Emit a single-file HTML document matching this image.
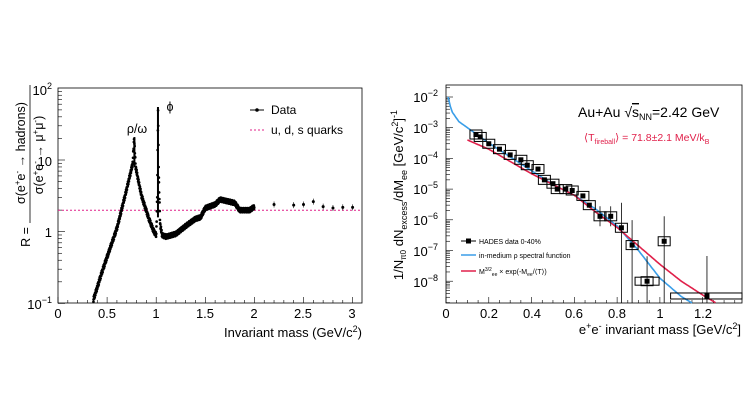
<!DOCTYPE html>
<html><head><meta charset="utf-8"><style>
html,body{margin:0;padding:0;background:#fff;}
svg{display:block;font-family:"Liberation Sans",sans-serif;}
</style></head><body>
<svg id="s" width="747" height="420" viewBox="0 0 747 420" xmlns="http://www.w3.org/2000/svg">
<rect width="747" height="420" fill="#fff"/>
<g id="L"></g>
<g id="R"></g>
<!-- left texts -->
<text x="52" y="95" font-size="13" text-anchor="end">10<tspan dy="-6" font-size="9">2</tspan></text>
<text x="52" y="166" font-size="13" text-anchor="end">10</text>
<text x="52" y="237" font-size="13" text-anchor="end">1</text>
<text x="52" y="309" font-size="13" text-anchor="end">10<tspan dy="-6" font-size="9">−1</tspan></text>
<g font-size="13" text-anchor="middle">
<text x="58" y="318">0</text><text x="107" y="318">0.5</text><text x="156" y="318">1</text><text x="205" y="318">1.5</text><text x="254" y="318">2</text><text x="303" y="318">2.5</text><text x="352" y="318">3</text>
</g>
<text x="362" y="337" font-size="13" text-anchor="end">Invariant mass (GeV/c<tspan dy="-5" font-size="9">2</tspan><tspan dy="5">)</tspan></text>
<g transform="translate(30,195) rotate(-90)" font-size="12.5">
<text x="-32" y="0" text-anchor="end">R =</text>
<text x="42" y="-5" text-anchor="middle">σ(e<tspan dy="-5" font-size="8">+</tspan><tspan dy="5">e</tspan><tspan dy="-5" font-size="8">-</tspan><tspan dy="5"> → hadrons)</tspan></text>
<line x1="-28" y1="0" x2="110" y2="0" stroke="#000" stroke-width="0.8"/>
<text x="40" y="13" text-anchor="middle">σ(e<tspan dy="-5" font-size="8">+</tspan><tspan dy="5">e</tspan><tspan dy="-5" font-size="8">-</tspan><tspan dy="5"> → μ</tspan><tspan dy="-5" font-size="8">+</tspan><tspan dy="5">μ</tspan><tspan dy="-5" font-size="8">-</tspan><tspan dy="5">)</tspan></text>
</g>
<text x="137" y="133" font-size="12.5" text-anchor="middle">ρ/ω</text>
<text x="170" y="111" font-size="12.5" text-anchor="middle">ϕ</text>
<line x1="250" y1="110" x2="264" y2="110" stroke="#000" stroke-width="1"/><circle cx="257" cy="110" r="1.8"/>
<text x="271" y="114" font-size="12">Data</text>
<line x1="250" y1="130" x2="264" y2="130" stroke="#e0208a" stroke-width="1" stroke-dasharray="2,2"/>
<text x="271" y="134" font-size="12">u, d, s quarks</text>
<!-- right texts -->
<g font-size="13" text-anchor="end">
<text x="438" y="102">10<tspan dy="-6" font-size="9">−2</tspan></text>
<text x="438" y="133">10<tspan dy="-6" font-size="9">−3</tspan></text>
<text x="438" y="164">10<tspan dy="-6" font-size="9">−4</tspan></text>
<text x="438" y="194">10<tspan dy="-6" font-size="9">−5</tspan></text>
<text x="438" y="225">10<tspan dy="-6" font-size="9">−6</tspan></text>
<text x="438" y="256">10<tspan dy="-6" font-size="9">−7</tspan></text>
<text x="438" y="287">10<tspan dy="-6" font-size="9">−8</tspan></text>
</g>
<g font-size="13" text-anchor="middle">
<text x="446" y="318">0</text><text x="489" y="318">0.2</text><text x="532" y="318">0.4</text><text x="574" y="318">0.6</text><text x="617" y="318">0.8</text><text x="660" y="318">1</text><text x="703" y="318">1.2</text>
</g>
<text x="741" y="334" font-size="13" text-anchor="end">e<tspan dy="-5" font-size="9">+</tspan><tspan dy="5">e</tspan><tspan dy="-5" font-size="9">-</tspan><tspan dy="5"> invariant mass [GeV/c</tspan><tspan dy="-5" font-size="9">2</tspan><tspan dy="5">]</tspan></text>
<g transform="translate(403,195) rotate(-90)" font-size="13" text-anchor="middle">
<text x="0" y="0">1/N<tspan dy="3" font-size="8">π0</tspan><tspan dy="-3"> dN</tspan><tspan dy="4" font-size="9">excess</tspan><tspan dy="-4">/dM</tspan><tspan dy="4" font-size="9">ee</tspan><tspan dy="-4"> [GeV/c</tspan><tspan dy="-5" font-size="9">2</tspan><tspan dy="5">]</tspan><tspan dy="-6" font-size="9">-1</tspan></text>
</g>
<text x="578" y="117" font-size="14">Au+Au √<tspan text-decoration="overline">s</tspan><tspan dy="3" font-size="9">NN</tspan><tspan dy="-3">=2.42 GeV</tspan></text>
<text x="584" y="141" font-size="10.5" fill="#e0204a">⟨T<tspan dy="3" font-size="7">fireball</tspan><tspan dy="-3">⟩ = 71.8±2.1 MeV/k</tspan><tspan dy="3" font-size="7">B</tspan></text>
<line x1="461" y1="241" x2="476" y2="241" stroke="#000"/><rect x="466" y="238.5" width="5" height="5"/>
<text x="479" y="244" font-size="7">HADES data 0-40%</text>
<line x1="461" y1="255" x2="476" y2="255" stroke="#3a9ee8" stroke-width="1.5"/>
<text x="479" y="258" font-size="7">in-medium ρ spectral function</text>
<line x1="461" y1="271" x2="476" y2="271" stroke="#e0204a" stroke-width="1.5"/>
<text x="479" y="274" font-size="7">M<tspan dy="-3" font-size="5">3/2</tspan><tspan dy="5" font-size="5">ee</tspan><tspan dy="-2"> × exp(-M</tspan><tspan dy="2" font-size="5">ee</tspan><tspan dy="-2">/⟨T⟩)</tspan></text>
</svg>
<script>
var NS="http://www.w3.org/2000/svg";
function el(p,t,a){var e=document.createElementNS(NS,t);for(var k in a)e.setAttribute(k,a[k]);p.appendChild(e);return e;}
function interpP(P,m){for(var i=0;i<P.length-1;i++){if(m>=P[i][0]&&m<=P[i+1][0]){var t=(m-P[i][0])/(P[i+1][0]-P[i][0]);return P[i][1]+t*(P[i+1][1]-P[i][1]);}}return null;}
// LEFT
var L=document.getElementById("L");
var lx=function(m){return 58+m*98.2;}, ly=function(l){return 231.7-l*71.7;};
el(L,"rect",{x:58,y:88,width:304,height:215,fill:"none",stroke:"#000","stroke-width":0.8});
for(var i=0;i<=30;i++){var x=lx(i*0.1);el(L,"line",{x1:x,y1:303,x2:x,y2:303-(i%5==0?6:3),stroke:"#000","stroke-width":0.6});}
for(var d=-1;d<2;d++)for(var k=1;k<10;k++){var y=ly(d+Math.log10(k));el(L,"line",{x1:58,y1:y,x2:58+(k==1?7:4),y2:y,stroke:"#000","stroke-width":0.6});}
el(L,"line",{x1:58,y1:210.2,x2:362,y2:210.2,stroke:"#e0208a","stroke-width":1,"stroke-dasharray":"2,2"});
var pts=[[0.36,-0.95],[0.45,-0.55],[0.6,0.05],[0.7,0.6],[0.76,0.95],[0.775,1.3],[0.79,0.9],[0.85,0.5],[0.92,0.2],[0.97,0.02],[1.0,-0.05],[1.01,0.5],[1.018,1.72],[1.025,0.8],[1.04,0.1],[1.06,-0.05],[1.1,-0.07],[1.2,-0.03],[1.3,0.08],[1.4,0.18],[1.45,0.2],[1.5,0.33],[1.6,0.38],[1.65,0.45],[1.8,0.4],[1.85,0.3],[1.95,0.3],[2.0,0.35]];
var dpath="";
for(var m=0.36;m<=2.0;m+=0.002){var v=interpP(pts,m);if(v===null)continue;var n=Math.sin(m*937)*0.03;dpath+="M"+lx(m).toFixed(1)+" "+ly(v+n).toFixed(1)+"h0.1";}
el(L,"path",{d:dpath,stroke:"#000","stroke-width":2.6,"stroke-linecap":"round",fill:"none"});
el(L,"line",{x1:lx(1.018),y1:ly(1.74),x2:lx(1.018),y2:ly(0.2),stroke:"#000","stroke-width":2});
el(L,"line",{x1:lx(0.778),y1:ly(1.32),x2:lx(0.778),y2:ly(0.9),stroke:"#000","stroke-width":2});
[[2.2,0.38],[2.4,0.37],[2.5,0.38],[2.6,0.42],[2.7,0.35],[2.8,0.33],[2.9,0.34],[3.0,0.34]].forEach(function(p){el(L,"circle",{cx:lx(p[0]),cy:ly(p[1]),r:1.5});el(L,"line",{x1:lx(p[0]),y1:ly(p[1])-3,x2:lx(p[0]),y2:ly(p[1])+3,stroke:"#000","stroke-width":0.6});});
// RIGHT
var R=document.getElementById("R");
var rx=function(m){return 446+m*213.9;}, ry=function(l){return 97-(l+2)*30.7;};
el(R,"rect",{x:446,y:85,width:296,height:218,fill:"none",stroke:"#000","stroke-width":0.8});
for(var i=0;i<=27;i++){var x=rx(i*0.05);el(R,"line",{x1:x,y1:303,x2:x,y2:303-(i%4==0?6:3),stroke:"#000","stroke-width":0.6});}
for(var d=-9;d<-1;d++)for(var k=1;k<10;k++){var y=ry(d+Math.log10(k));if(y<85||y>303)continue;el(R,"line",{x1:446,y1:y,x2:446+(k==1?7:4),y2:y,stroke:"#000","stroke-width":0.6});}
function poly(P,st){var s="";for(var m=P[0][0];m<=P[P.length-1][0];m+=0.005){var v=interpP(P,m);if(v===null)continue;var y=ry(v);if(y>303)break;s+=(s?"L":"M")+rx(m).toFixed(1)+" "+y.toFixed(1);}el(R,"path",{d:s,stroke:st,"stroke-width":1.6,fill:"none","stroke-linejoin":"round"});}
poly([[0.01,-2.0],[0.02,-2.3],[0.03,-2.5],[0.06,-2.8],[0.1,-3.0],[0.15,-3.25],[0.2,-3.5],[0.3,-3.95],[0.4,-4.4],[0.5,-4.85],[0.6,-5.2],[0.7,-5.65],[0.8,-6.2],[0.9,-7.0],[1.0,-7.9],[1.1,-8.5],[1.16,-8.75]],"#3a9ee8");
poly([[0.1,-3.4],[0.2,-3.7],[0.3,-4.1],[0.4,-4.5],[0.5,-4.85],[0.6,-5.2],[0.7,-5.75],[0.8,-6.25],[0.9,-6.85],[1.0,-7.45],[1.1,-8.0],[1.2,-8.45],[1.26,-8.7]],"#e0204a");
var dp=[[0.14,6e-4],[0.16,5e-4],[0.2,3e-4],[0.25,2e-4],[0.3,1.3e-4],[0.35,9e-5],[0.38,6e-5],[0.43,4.5e-5],[0.46,2e-5],[0.5,1.5e-5],[0.52,1e-5],[0.56,1e-5],[0.59,9e-6],[0.64,6e-6],[0.67,3e-6],[0.72,1.3e-6],[0.77,1.3e-6],[0.82,5.5e-7],[0.87,1.5e-7],[0.94,1e-8],[1.02,2e-7]];
dp.forEach(function(p,i){var x=rx(p[0]),y=ry(Math.log10(p[1]));el(R,"rect",{x:x-6,y:y-4.5,width:12,height:9,fill:"none",stroke:"#000","stroke-width":1});
var e=i>=15?(i>=17?25:10):2;el(R,"line",{x1:x,y1:Math.max(86,y-e),x2:x,y2:i>=17?303:y+e,stroke:"#000","stroke-width":0.8});el(R,"rect",{x:x-2.5,y:y-2.5,width:5,height:5});});
var y=ry(Math.log10(3.3e-9));el(R,"rect",{x:rx(1.05),y:y-3,width:742-rx(1.05),height:6,fill:"none",stroke:"#000"});el(R,"rect",{x:rx(1.22)-2.5,y:y-2.5,width:5,height:5});el(R,"line",{x1:rx(1.22),y1:y-40,x2:rx(1.22),y2:303,stroke:"#000","stroke-width":0.8});
el(R,"rect",{x:rx(0.94)-12,y:ry(-8)-4,width:24,height:8,fill:"none",stroke:"#000"});
</script>
</body></html>
